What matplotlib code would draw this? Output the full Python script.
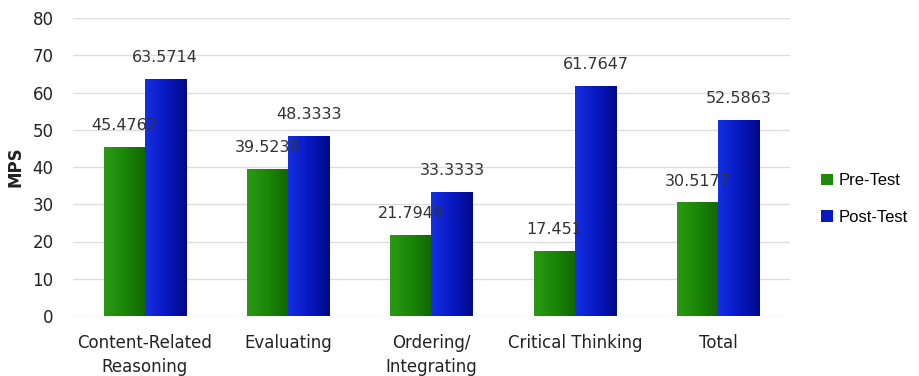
import numpy as np
import matplotlib
matplotlib.use("Agg")
import matplotlib.pyplot as plt
from matplotlib.colors import LinearSegmentedColormap

categories = ["Content-Related\nReasoning", "Evaluating", "Ordering/\nIntegrating",
              "Critical Thinking", "Total"]
pre_test = [45.4762, 39.5238, 21.7949, 17.4510, 30.5177]
post_test = [63.5714, 48.3333, 33.3333, 61.7647, 52.5863]
pre_labels = ["45.4762", "39.5238", "21.7949", "17.451", "30.5177"]
post_labels = ["63.5714", "48.3333", "33.3333", "61.7647", "52.5863"]

GREEN = "#1f8a0a"
BLUE = "#0818c0"
green_cmap = LinearSegmentedColormap.from_list("g", ["#2a9a12", "#1c8608", "#106602"])
blue_cmap = LinearSegmentedColormap.from_list("b", ["#1430e0", "#0818c0", "#020a88"])

fig = plt.figure(figsize=(9.19, 3.76), dpi=100)
ax = fig.add_axes([73 / 919, 60 / 376, 717 / 919, 298 / 376])

x = np.arange(len(categories))
w = 0.287
b1 = ax.bar(x - w / 2, pre_test, w, color=GREEN, label="Pre-Test", zorder=2)
b2 = ax.bar(x + w / 2, post_test, w, color=BLUE, label="Post-Test", zorder=2)

# horizontal gradient shading inside each bar
grad = np.linspace(0, 1, 64).reshape(1, -1)
for bars, cmap in ((b1, green_cmap), (b2, blue_cmap)):
    for p in bars:
        x0, y0, bw, bh = p.get_x(), p.get_y(), p.get_width(), p.get_height()
        im = ax.imshow(grad, cmap=cmap, aspect="auto", zorder=3,
                       extent=(x0, x0 + bw, y0, y0 + bh))
        im.set_clip_path(p)

for i in range(len(categories)):
    ax.text(x[i] - w / 2, pre_test[i] + 3.7, pre_labels[i], ha="center", va="bottom",
            fontsize=11.5, color="#333333", zorder=4)
    ax.text(x[i] + w / 2, post_test[i] + 3.7, post_labels[i], ha="center", va="bottom",
            fontsize=11.5, color="#333333", zorder=4)

ax.set_xlim(-0.5, 4.5)
ax.set_ylim(0, 80)
ax.set_yticks(range(0, 81, 10))
ax.set_xticks(x)
ax.set_xticklabels(categories, fontsize=12, color="#222222", linespacing=1.4)
ax.tick_params(axis="y", labelsize=12, length=0, pad=14, labelcolor="#222222")
ax.tick_params(axis="x", length=0, pad=13)
ax.set_ylabel("MPS", fontsize=12, fontweight="bold", labelpad=6, color="#222222")
ax.grid(True, axis="y", color="#dddddd", lw=1, zorder=0)
for s in ax.spines.values():
    s.set_visible(False)

fig.legend(handles=[b1, b2], loc="center left", bbox_to_anchor=(0.877, 0.47),
           frameon=False, handlelength=0.7, handleheight=0.7,
           handletextpad=0.35, labelspacing=1.3,
           prop={"family": "Liberation Sans", "size": 12})

fig.savefig("out.png", dpi=100)
